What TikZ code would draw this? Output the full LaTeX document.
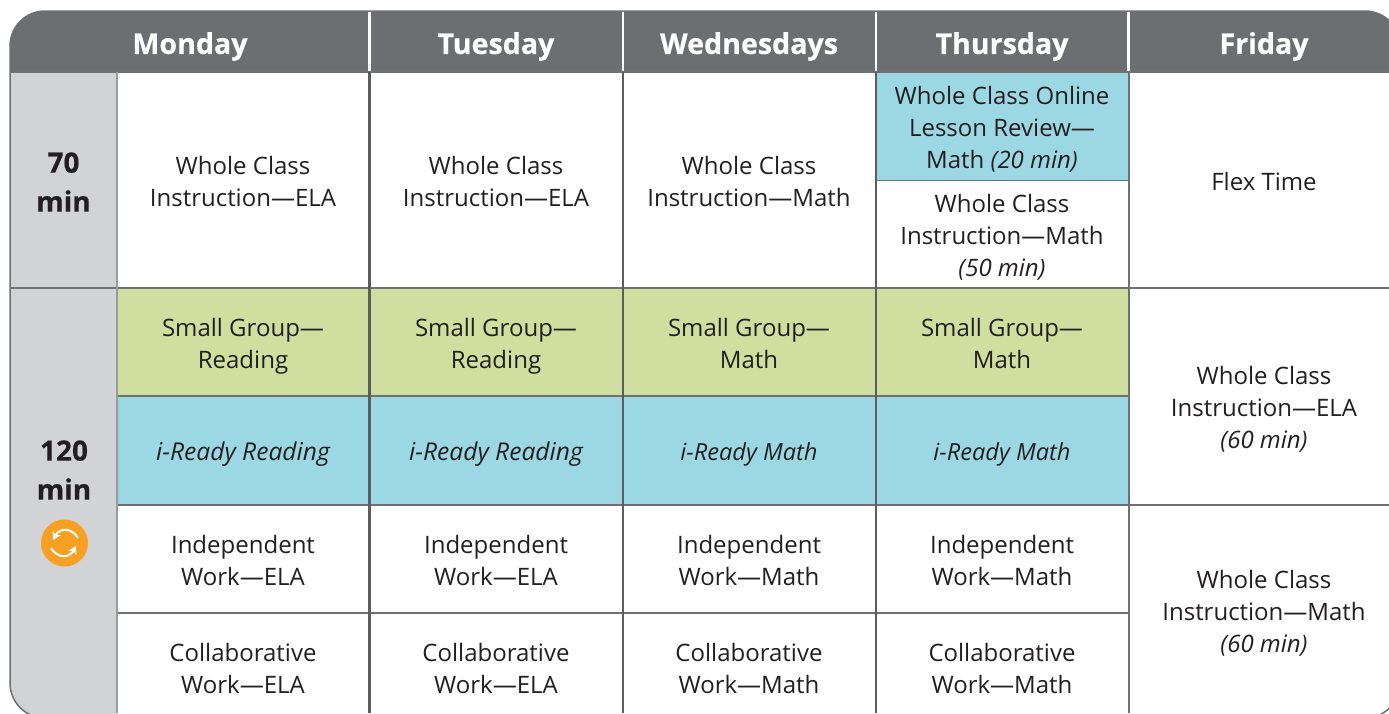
\documentclass[tikz,border=0pt]{standalone}
\usepackage{fontspec}
\setmainfont{Open Sans}
\usetikzlibrary{arrows.meta}
\definecolor{hdr}{HTML}{6D6E71}
\definecolor{rule}{HTML}{6F7072}
\definecolor{side}{HTML}{D1D3D4}
\definecolor{bluec}{HTML}{9CD8E4}
\definecolor{greenc}{HTML}{D0DE9F}
\definecolor{ink}{HTML}{231F20}
\definecolor{orangec}{HTML}{F7A023}
\tikzset{
  x=1pt,y=-1pt,
  cell/.style={inner sep=0pt,outer sep=0pt,align=center,text=ink,font=\fontsize{24}{32}\selectfont},
  slanted cell/.style={cell,font=\fontsize{24.6}{32}\selectfont\itshape},
  slanted short/.style={cell,font=\fontsize{23.6}{32}\selectfont\itshape},
  dayhead/.style={inner sep=0pt,align=center,text=white,font=\fontsize{28.6}{32}\selectfont\bfseries\addfontfeature{FakeBold=0.5}},
  sidelabel/.style={inner sep=0pt,align=center,text=ink,font=\fontsize{28}{39}\selectfont\bfseries\addfontfeature{FakeBold=0.5}},
  hline/.style={draw=rule,line width=2pt},
  vline/.style={draw=hdr!85!black,line width=2.6pt},
  wline/.style={draw=white,line width=2.2pt},
}
\begin{document}
\begin{tikzpicture}
\useasboundingbox (0,0) rectangle (1389,713);
\clip (0,0) rectangle (1389,713);
% frame
\begin{scope}
\clip[rounded corners=35pt] (10,11) rectangle (1400,718);
\fill[white] (10,11) rectangle (1400,718);
\fill[hdr] (10,11) rectangle (1400,72);
\fill[side] (10,72) rectangle (117,718);
\fill[bluec] (117,396) rectangle (1129,504);
\fill[greenc] (117,288) rectangle (1129,396);
\fill[bluec] (876,72) rectangle (1129,180);
\end{scope}
% outline
\draw[rule,line width=1.5pt,rounded corners=35pt] (10,11) rectangle (1400,718);
% horizontal rules
\draw[hline] (10,72) -- (1389,72);
\draw[hline] (10,288) -- (1389,288);
\draw[hline] (117,396) -- (1129,396);
\draw[hline] (117,504.5) -- (1389,504.5);
\draw[hline] (117,612.5) -- (1129,612.5);
\draw[rule,line width=1pt] (876,180) -- (1129,180);
% vertical rules
\draw[rule!70!white,line width=1.2pt] (117,72) -- (117,713);
\foreach \vx in {369.5,623,876} {\draw[vline] (\vx,72) -- (\vx,713);}
\draw[rule,line width=2pt] (1128.5,72) -- (1128.5,713);
\foreach \vx in {369.5,623,876,1128.5} {\draw[wline] (\vx,12) -- (\vx,71);}
% headers
\node[dayhead] (hmon) at (190,46.5) {Monday};
\node[dayhead] (htue) at (496,46.5) {Tuesday};
\node[dayhead] (hwed) at (749,46.5) {Wednesdays};
\node[dayhead] (hthu) at (1002,46.5) {Thursday};
\node[dayhead] (hfri) at (1264,46.5) {Friday};
% side labels
\node[sidelabel] (s70) at (63.5,182) {70\\min};
\node[sidelabel] (s120) at (64,470) {120\\min};
% refresh icon
\node[circle,fill=orangec,minimum size=47pt,inner sep=0pt] (icon) at (64.5,543) {};
\draw[white,line width=2pt,-{Stealth[length=8pt,width=9pt]}] (78,538) .. controls (72,528) and (60,527) .. (53,540);
\draw[white,line width=2pt,-{Stealth[length=8pt,width=9pt]}] (51,548) .. controls (57,558) and (69,559) .. (76,546);
% Monday
\node[cell] (m1) at (243,181) {Whole Class\\Instruction—ELA};
\node[cell] (m2) at (243,346) {Small Group—\\Reading};
\node[slanted cell] (m3) at (243,454) {i-Ready Reading};
\node[cell] (m4) at (243,560) {Independent\\Work—ELA};
\node[cell] (m5) at (243,668) {Collaborative\\Work—ELA};
% Tuesday
\node[cell] (t1) at (496,181) {Whole Class\\Instruction—ELA};
\node[cell] (t2) at (496,346) {Small Group—\\Reading};
\node[slanted cell] (t3) at (496,454) {i-Ready Reading};
\node[cell] (t4) at (496,560) {Independent\\Work—ELA};
\node[cell] (t5) at (496,668) {Collaborative\\Work—ELA};
% Wednesday
\node[cell] (w1) at (749,181) {Whole Class\\Instruction—Math};
\node[cell] (w2) at (749,343) {Small Group—\\Math};
\node[slanted short] (w3) at (749,454) {i-Ready Math};
\node[cell] (w4) at (749,560) {Independent\\Work—Math};
\node[cell] (w5) at (749,668) {Collaborative\\Work—Math};
% Thursday
\node[cell] (h0) at (1002,129) {Whole Class Online\\Lesson Review—\\Math \textit{(20 min)}};
\node[cell] (h1) at (1002,237) {Whole Class\\Instruction—Math\\\textit{(50 min)}};
\node[cell] (h2) at (1002,343) {Small Group—\\Math};
\node[slanted short] (h3) at (1002,454) {i-Ready Math};
\node[cell] (h4) at (1002,560) {Independent\\Work—Math};
\node[cell] (h5) at (1002,668) {Collaborative\\Work—Math};
% Friday
\node[cell] (f1) at (1264,181) {Flex Time};
\node[cell] (f2) at (1264,409) {Whole Class\\Instruction—ELA\\\textit{(60 min)}};
\node[cell] (f3) at (1264,613) {Whole Class\\Instruction—Math\\\textit{(60 min)}};
\end{tikzpicture}
\end{document}
